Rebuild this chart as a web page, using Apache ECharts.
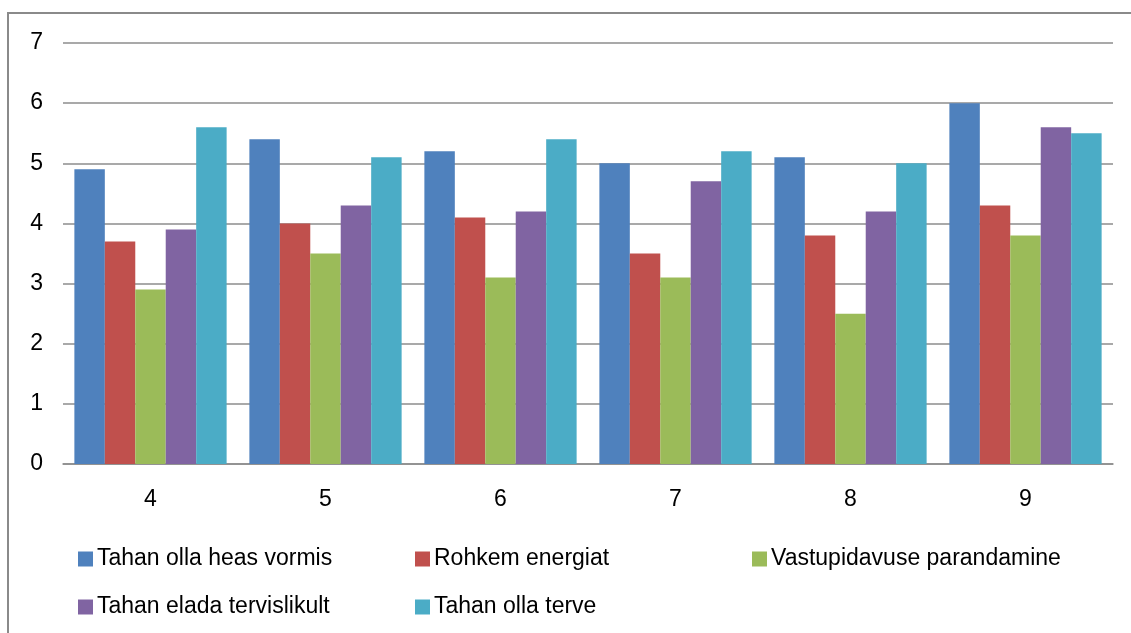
<!DOCTYPE html>
<html>
<head>
<meta charset="utf-8">
<script src="https://cdn.jsdelivr.net/npm/echarts@6/dist/echarts.min.js"></script>
<style>
  html, body { margin: 0; padding: 0; background: #fff; }
  #chart { width: 1131px; height: 633px; }
</style>
</head>
<body>
<div id="chart"></div>
<script>
  // kategooriad (klass) ja vastuste keskmised
  var categories = ['4', '5', '6', '7', '8', '9'];
  var seriesNames = ['Tahan olla heas vormis', 'Rohkem energiat', 'Vastupidavuse parandamine',
                     'Tahan elada tervislikult', 'Tahan olla terve'];
  var heasVormis   = [4.9, 5.4, 5.2, 5.0, 5.1, 6.0];
  var energia      = [3.7, 4.0, 4.1, 3.5, 3.8, 4.3];
  var vastupidavus = [2.9, 3.5, 3.1, 3.1, 2.5, 3.8];
  var tervislikult = [3.9, 4.3, 4.2, 4.7, 4.2, 5.6];
  var terve        = [5.6, 5.1, 5.4, 5.2, 5.0, 5.5];
  var yTicks = [0, 1, 2, 3, 4, 5, 6, 7];

  var colors = ['#4F81BD', '#C0504D', '#9BBB59', '#8064A2', '#4BACC6'];
  var values = [heasVormis, energia, vastupidavus, tervislikult, terve];
  var font = 'Liberation Sans, Arial, sans-serif';

  var chart = echarts.init(document.getElementById('chart'));

  var series = [];
  for (var i = 0; i < values.length; i++) {
    series.push({
      name: seriesNames[i],
      type: 'bar',
      data: values[i],
      barGap: '0%',
      barCategoryGap: '13%',
      itemStyle: { color: colors[i] }
    });
  }

  var option = {
    animation: false,
    color: colors,
    textStyle: { fontFamily: font, color: '#000' },
    // välimine raam
    graphic: [{
      type: 'polyline',
      shape: { points: [[8, 640], [8, 13], [1140, 13]] },
      style: { stroke: '#8a8a8a', lineWidth: 2, fill: null },
      silent: true
    }],
    legend: {
      left: 73,
      top: 540,
      width: 1040,
      itemWidth: 15,
      itemHeight: 15,
      itemGap: 20,
      icon: 'rect',
      data: seriesNames,
      textStyle: {
        fontFamily: font,
        fontSize: 23,
        color: '#000',
        width: 298,
        lineHeight: 28,
        padding: [0, 0, 0, -1]
      }
    },
    grid: {
      left: 63,
      right: 18,
      top: 43,
      bottom: 169,
      containLabel: false
    },
    xAxis: {
      type: 'category',
      data: categories,
      axisLine: { show: true, lineStyle: { color: '#8c8c8c', width: 1.5 } },
      axisTick: { show: false },
      axisLabel: { fontSize: 23, color: '#000', margin: 24, fontFamily: font }
    },
    yAxis: {
      type: 'value',
      min: yTicks[0],
      max: yTicks[yTicks.length - 1],
      interval: 1,
      axisLine: { show: false },
      axisTick: { show: false },
      splitLine: { lineStyle: { color: '#8c8c8c', width: 1.5 } },
      axisLabel: { fontSize: 23, color: '#000', margin: 20, fontFamily: font }
    },
    series: series
  };

  chart.setOption(option);
</script>
</body>
</html>
